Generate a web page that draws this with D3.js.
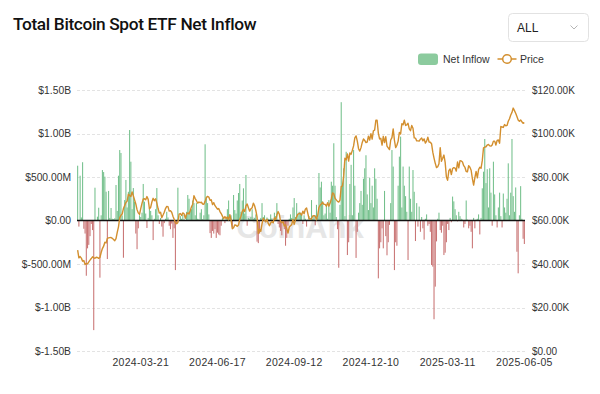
<!DOCTYPE html>
<html>
<head>
<meta charset="utf-8">
<script src="https://cdn.jsdelivr.net/npm/d3@7"></script>
<style>
  body { margin: 0; background: #fff; }
  svg { display: block; font-family: 'Liberation Sans', Arial, sans-serif; }
</style>
</head>
<body>
<svg id="chart" width="600" height="394"></svg>
<script>
// ------------------------------- DATA below ----------------------------------------------

// Daily net inflow, millions of USD (one value per category)
const netInflow = [
  630, -70, 515, 35, 670, -95, -150, -635, -320, -280,
  -180, -40, -110, -1260, 377, 0, 44, 147, -657, 60,
  580, 557, 504, 331, -443, 340, 30, 144, 20, 15,
  25, 408, 110, 515, 810, 776, 60, -428, 235, 466,
  150, 330, 1040, 676, 130, 373, 216, -150, -330, -90,
  60, 40, 90, 420, 216, 80, -86, 30, 140, 110,
  60, -225, 20, 130, 373, 60, -40, 30, -70, -186,
  -30, 20, 100, 35, -60, -100, -35, -200, -90, -570,
  -40, 377, 0, 50, 20, 65, 15, 0, 100, 293,
  250, 110, 130, 230, 200, 60, 200, 20, 15, 90,
  130, 15, 60, 876, 258, 200, 70, -145, -200, -120,
  -150, -100, -200, -140, -160, -170, -60, 30, 10, -30,
  20, 130, 230, 50, 60, -80, 293, 120, 80, 230,
  316, 420, 100, 230, 370, 80, 523, -60, 30, 20,
  40, 130, 20, 30, 70, -243, -260, -150, 30, 200,
  40, 60, -20, 35, 20, 10, 70, 25, -30, 90,
  50, 200, -40, -80, -120, -170, -30, -100, -290, -200,
  -60, 20, 70, 30, 150, 258, 40, 200, 60, 100,
  90, 70, -40, 60, 20, -70, 10, 50, 30, 235,
  20, 60, -55, 180, 30, 546, 380, 446, 220, 60,
  80, 180, 20, 235, 90, 446, 400, 888, 400, 40,
  -100, -543, 180, 1360, 400, 600, 50, 790, -397, -250,
  420, 640, 60, 810, 400, -430, -130, 90, 200, 340,
  180, 480, 600, 750, 300, 120, 490, 200, 400, 150,
  600, 480, 250, -665, -320, -250, -90, -320, 340, -180,
  -400, -250, -50, 200, 810, 620, -570, -250, -290, 400,
  734, 964, 150, 620, 400, 280, 100, -454, 620, 250,
  100, 580, 330, -236, 200, -70, 160, -130, 40, -90,
  -220, 20, 70, -60, -40, -130, -512, -530, -1135, -760,
  -240, 20, 90, -110, -140, -60, -397, -370, -250, -40,
  -110, 30, -20, 275, 220, 130, 60, -10, 100, 50,
  20, 10, -80, -40, 230, 10, -90, -60, -130, -320,
  30, -90, 10, 20, 70, -160, 30, 370, 561, 937,
  430, 590, 150, 600, 320, -60, 676, 300, 60, -80,
  150, 320, 50, -80, 310, 150, 90, 250, 657, 60,
  320, 937, 280, 100, 380, -359, -607, 60, 395, 20, -210, -270
];

// BTC price, thousands of USD (same categories)
const btcPrice = [
  46.4, 42.8, 43.4, 42.7, 41.3, 41.6, 39.8, 40.2, 40.1, 41.0,
  41.8, 42.5, 43.3, 42.9, 42.6, 43.1, 43.0, 42.6, 43.0, 45.3,
  47.1, 48.2, 50.0, 49.7, 51.8, 52.0, 52.1, 52.2, 51.8, 51.3,
  50.7, 51.7, 54.5, 57.1, 61.2, 62.4, 63.0, 65.5, 66.9, 68.3,
  68.9, 72.1, 71.5, 71.0, 73.1, 71.4, 69.5, 67.6, 65.0, 63.5,
  62.8, 65.5, 67.9, 69.9, 70.0, 69.5, 71.0, 69.7, 65.4, 66.0,
  68.5, 70.2, 69.1, 70.0, 68.0, 65.5, 63.4, 63.8, 61.3, 62.5,
  63.8, 65.5, 66.5, 66.4, 64.3, 64.5, 63.8, 62.0, 60.6, 58.9,
  58.5, 59.1, 62.9, 63.2, 62.3, 63.5, 63.1, 61.0, 62.9, 63.5,
  63.0, 64.5, 66.3, 67.5, 71.4, 70.1, 69.1, 68.0, 68.5, 68.2,
  68.4, 67.6, 67.5, 68.8, 70.6, 71.1, 70.8, 69.3, 69.5, 67.3,
  68.2, 66.8, 66.0, 65.2, 65.5, 64.1, 63.2, 62.0, 60.8, 61.8,
  60.9, 61.6, 60.3, 62.7, 60.2, 56.2, 56.7, 58.0, 57.8, 57.3,
  57.9, 60.5, 62.0, 64.1, 65.1, 64.1, 66.7, 67.6, 65.9, 64.3,
  65.4, 65.8, 68.0, 66.8, 64.6, 61.5, 54.0, 56.0, 55.0, 58.5,
  61.0, 60.2, 59.4, 60.6, 58.7, 57.6, 58.9, 59.5, 59.0, 61.2,
  60.4, 62.5, 64.1, 62.9, 59.5, 59.0, 59.4, 57.5, 58.0, 56.2,
  54.2, 57.0, 57.6, 58.1, 60.5, 58.2, 60.3, 61.8, 62.9, 63.2,
  63.3, 62.5, 64.3, 63.1, 65.2, 65.8, 63.3, 60.8, 60.6, 60.8,
  62.1, 62.2, 62.1, 60.3, 62.4, 66.0, 67.1, 67.6, 68.4, 67.4,
  67.4, 66.6, 68.2, 66.6, 67.9, 69.9, 72.7, 72.3, 70.2, 69.5,
  68.8, 68.5, 69.4, 75.6, 75.9, 80.5, 88.7, 87.9, 90.6, 87.3,
  91.1, 90.5, 92.3, 94.3, 98.0, 98.9, 96.5, 93.0, 91.9, 93.5,
  95.9, 97.5, 96.8, 95.8, 96.0, 98.8, 97.0, 99.9, 97.4, 101.2,
  101.5, 106.1, 106.1, 100.2, 97.5, 97.8, 94.7, 98.7, 95.8, 98.5,
  94.2, 93.4, 92.6, 97.0, 98.1, 102.1, 96.9, 93.5, 94.6, 96.5,
  100.5, 99.8, 104.5, 104.0, 106.1, 103.7, 104.0, 104.7, 102.1, 101.3,
  103.7, 102.4, 98.0, 97.9, 96.6, 96.6, 96.5, 97.4, 97.9, 96.6,
  97.5, 95.6, 96.5, 98.3, 96.1, 96.0, 95.3, 91.4, 88.7, 86.3,
  84.3, 84.7, 86.1, 93.5, 87.2, 88.6, 90.1, 86.7, 80.0, 78.5,
  82.9, 83.7, 81.1, 83.9, 84.3, 84.1, 82.7, 86.9, 84.2, 87.5,
  87.4, 86.9, 85.2, 84.4, 82.5, 82.4, 85.2, 84.5, 83.1, 79.2,
  76.3, 79.6, 82.6, 79.6, 83.4, 84.5, 84.0, 87.5, 93.4, 93.7,
  93.9, 94.7, 95.0, 94.3, 94.2, 94.7, 96.5, 96.5, 94.7, 96.8,
  97.0, 95.5, 103.2, 103.0, 102.8, 104.1, 103.5, 103.7, 105.6, 106.8,
  108.5, 109.7, 111.7, 110.5, 109.3, 107.8, 106.2, 105.6, 106.2, 105.4, 104.7, 105.0
];

// X axis labels and the category they sit on
const dateLabels = ['2024-03-21', '2024-06-17', '2024-09-12', '2024-12-10', '2025-03-11', '2025-06-05'];
const dateLabelIndex = [51, 113, 175, 237, 299, 361];

// Axis ticks
const flowTicks = [-1.5e9, -1e9, -5e8, 0, 5e8, 1e9, 1.5e9];
const priceTicks = [0, 20000, 40000, 60000, 80000, 100000, 120000];

// ------------------------------- SETUP below ----------------------------------------------

const green = '#74c08c';
const red = '#c97474';
const orange = '#d38f2e';

const plotLeft = 77;
const plotRight = 525;
const plotTop = 90;
const plotBottom = 351;

const svg = d3.select('#chart');

const x = d3
  .scaleBand()
  .domain(d3.range(netInflow.length))
  .range([plotLeft, plotRight])
  .paddingInner(0.15)
  .paddingOuter(0.1);

const yFlow = d3.scaleLinear().domain([-1.5e9, 1.5e9]).range([plotBottom, plotTop]);
const yPrice = d3.scaleLinear().domain([0, 120000]).range([plotBottom, plotTop]);

function fmtFlow(v) {
  if (v === 0) return '$0.00';
  if (Math.abs(v) >= 1e9) return '$' + (v / 1e9).toFixed(2) + 'B';
  return '$' + (v / 1e6).toFixed(2) + 'M';
}

function fmtPrice(v) {
  if (v === 0) return '$0.00';
  return '$' + (v / 1000).toFixed(2) + 'K';
}

// ------------------------------- TITLE & CONTROLS  ----------------------------------------------

svg
  .append('text')
  .attr('x', 13)
  .attr('y', 29.5)
  .attr('font-family', 'Roboto, sans-serif')
  .attr('font-size', 17.3)
  .attr('font-weight', 500)
  .attr('letter-spacing', -0.35)
  .attr('fill', '#111')
  .text('Total Bitcoin Spot ETF Net Inflow');

// "ALL" select box
svg
  .append('rect')
  .attr('x', 508.5)
  .attr('y', 13.5)
  .attr('width', 80)
  .attr('height', 28)
  .attr('rx', 4)
  .attr('fill', '#fff')
  .attr('stroke', '#e2e2e2');

svg
  .append('text')
  .attr('x', 517)
  .attr('y', 32)
  .attr('font-size', 12)
  .attr('fill', '#222')
  .text('ALL');

svg
  .append('path')
  .attr('d', 'M570.5,25.5 L574,29 L577.5,25.5')
  .attr('fill', 'none')
  .attr('stroke', '#b5b5b5')
  .attr('stroke-width', 1);

// legend
const legend = svg.append('g').attr('font-size', 10.5).attr('fill', '#333');

legend
  .append('rect')
  .attr('x', 418)
  .attr('y', 53.5)
  .attr('width', 20)
  .attr('height', 11.5)
  .attr('rx', 3)
  .attr('fill', '#8ccb9e');

legend.append('text').attr('x', 443).attr('y', 63).text('Net Inflow');

legend
  .append('line')
  .attr('x1', 497.5)
  .attr('x2', 516.5)
  .attr('y1', 59)
  .attr('y2', 59)
  .attr('stroke', orange)
  .attr('stroke-width', 1.5);

legend
  .append('circle')
  .attr('cx', 507)
  .attr('cy', 59)
  .attr('r', 4.3)
  .attr('fill', '#fff')
  .attr('stroke', orange)
  .attr('stroke-width', 1.5);

legend.append('text').attr('x', 520).attr('y', 63).text('Price');

// ------------------------------- GRID & AXES  ----------------------------------------------

// watermark
svg
  .append('text')
  .attr('x', 300)
  .attr('y', 238)
  .attr('text-anchor', 'middle')
  .attr('font-size', 31)
  .attr('font-weight', 'bold')
  .attr('fill', '#e6e6e6')
  .text('CoinAnk');

svg
  .append('g')
  .selectAll('line')
  .data(flowTicks.filter((d) => d !== 0))
  .join('line')
  .attr('x1', plotLeft)
  .attr('x2', plotRight)
  .attr('y1', (d) => Math.round(yFlow(d)) + 0.5)
  .attr('y2', (d) => Math.round(yFlow(d)) + 0.5)
  .attr('stroke', '#e3e3e3')
  .attr('stroke-dasharray', '3,2');

const leftAxis = svg
  .append('g')
  .attr('transform', `translate(${plotLeft - 6},0)`)
  .call(d3.axisLeft(yFlow).tickValues(flowTicks).tickFormat(fmtFlow).tickSize(0));
leftAxis.select('.domain').remove();
leftAxis
  .selectAll('text')
  .attr('font-family', "'Liberation Sans', Arial, sans-serif")
  .attr('font-size', 10.3)
  .attr('fill', '#333')
  .attr('x', 0);

const rightAxis = svg
  .append('g')
  .attr('transform', `translate(${plotRight + 7},0)`)
  .call(d3.axisRight(yPrice).tickValues(priceTicks).tickFormat(fmtPrice).tickSize(0));
rightAxis.select('.domain').remove();
rightAxis
  .selectAll('text')
  .attr('font-family', "'Liberation Sans', Arial, sans-serif")
  .attr('font-size', 10)
  .attr('fill', '#333')
  .attr('x', 0);

const xAxis = svg
  .append('g')
  .attr('transform', `translate(0,${plotBottom + 5})`)
  .call(
    d3
      .axisBottom(x)
      .tickValues(dateLabelIndex)
      .tickFormat((d) => dateLabels[dateLabelIndex.indexOf(d)])
      .tickSize(0)
  );
xAxis.select('.domain').remove();
xAxis
  .selectAll('text')
  .attr('font-family', "'Liberation Sans', Arial, sans-serif")
  .attr('font-size', 10.5)
  .attr('letter-spacing', 0.3)
  .attr('fill', '#333');

// ------------------------------- BARS  ----------------------------------------------

svg
  .append('g')
  .selectAll('rect')
  .data(netInflow)
  .join('rect')
  .attr('x', (d, i) => x(i))
  .attr('width', x.bandwidth())
  .attr('y', (d) => yFlow(Math.max(0, d * 1e6)))
  .attr('height', (d) => Math.abs(yFlow(d * 1e6) - yFlow(0)))
  .attr('fill', (d) => (d >= 0 ? green : red));

// zero line
svg
  .append('line')
  .attr('x1', plotLeft)
  .attr('x2', plotRight)
  .attr('y1', yFlow(0))
  .attr('y2', yFlow(0))
  .attr('stroke', '#111')
  .attr('stroke-width', 1.5);

// ------------------------------- PRICE LINE  ----------------------------------------------

const line = d3
  .line()
  .x((d, i) => x(i) + x.bandwidth() / 2)
  .y((d) => yPrice(d * 1000));

svg
  .append('path')
  .datum(btcPrice)
  .attr('d', line)
  .attr('fill', 'none')
  .attr('stroke', orange)
  .attr('stroke-width', 1.4)
  .attr('stroke-linejoin', 'round');
</script>
</body>
</html>
